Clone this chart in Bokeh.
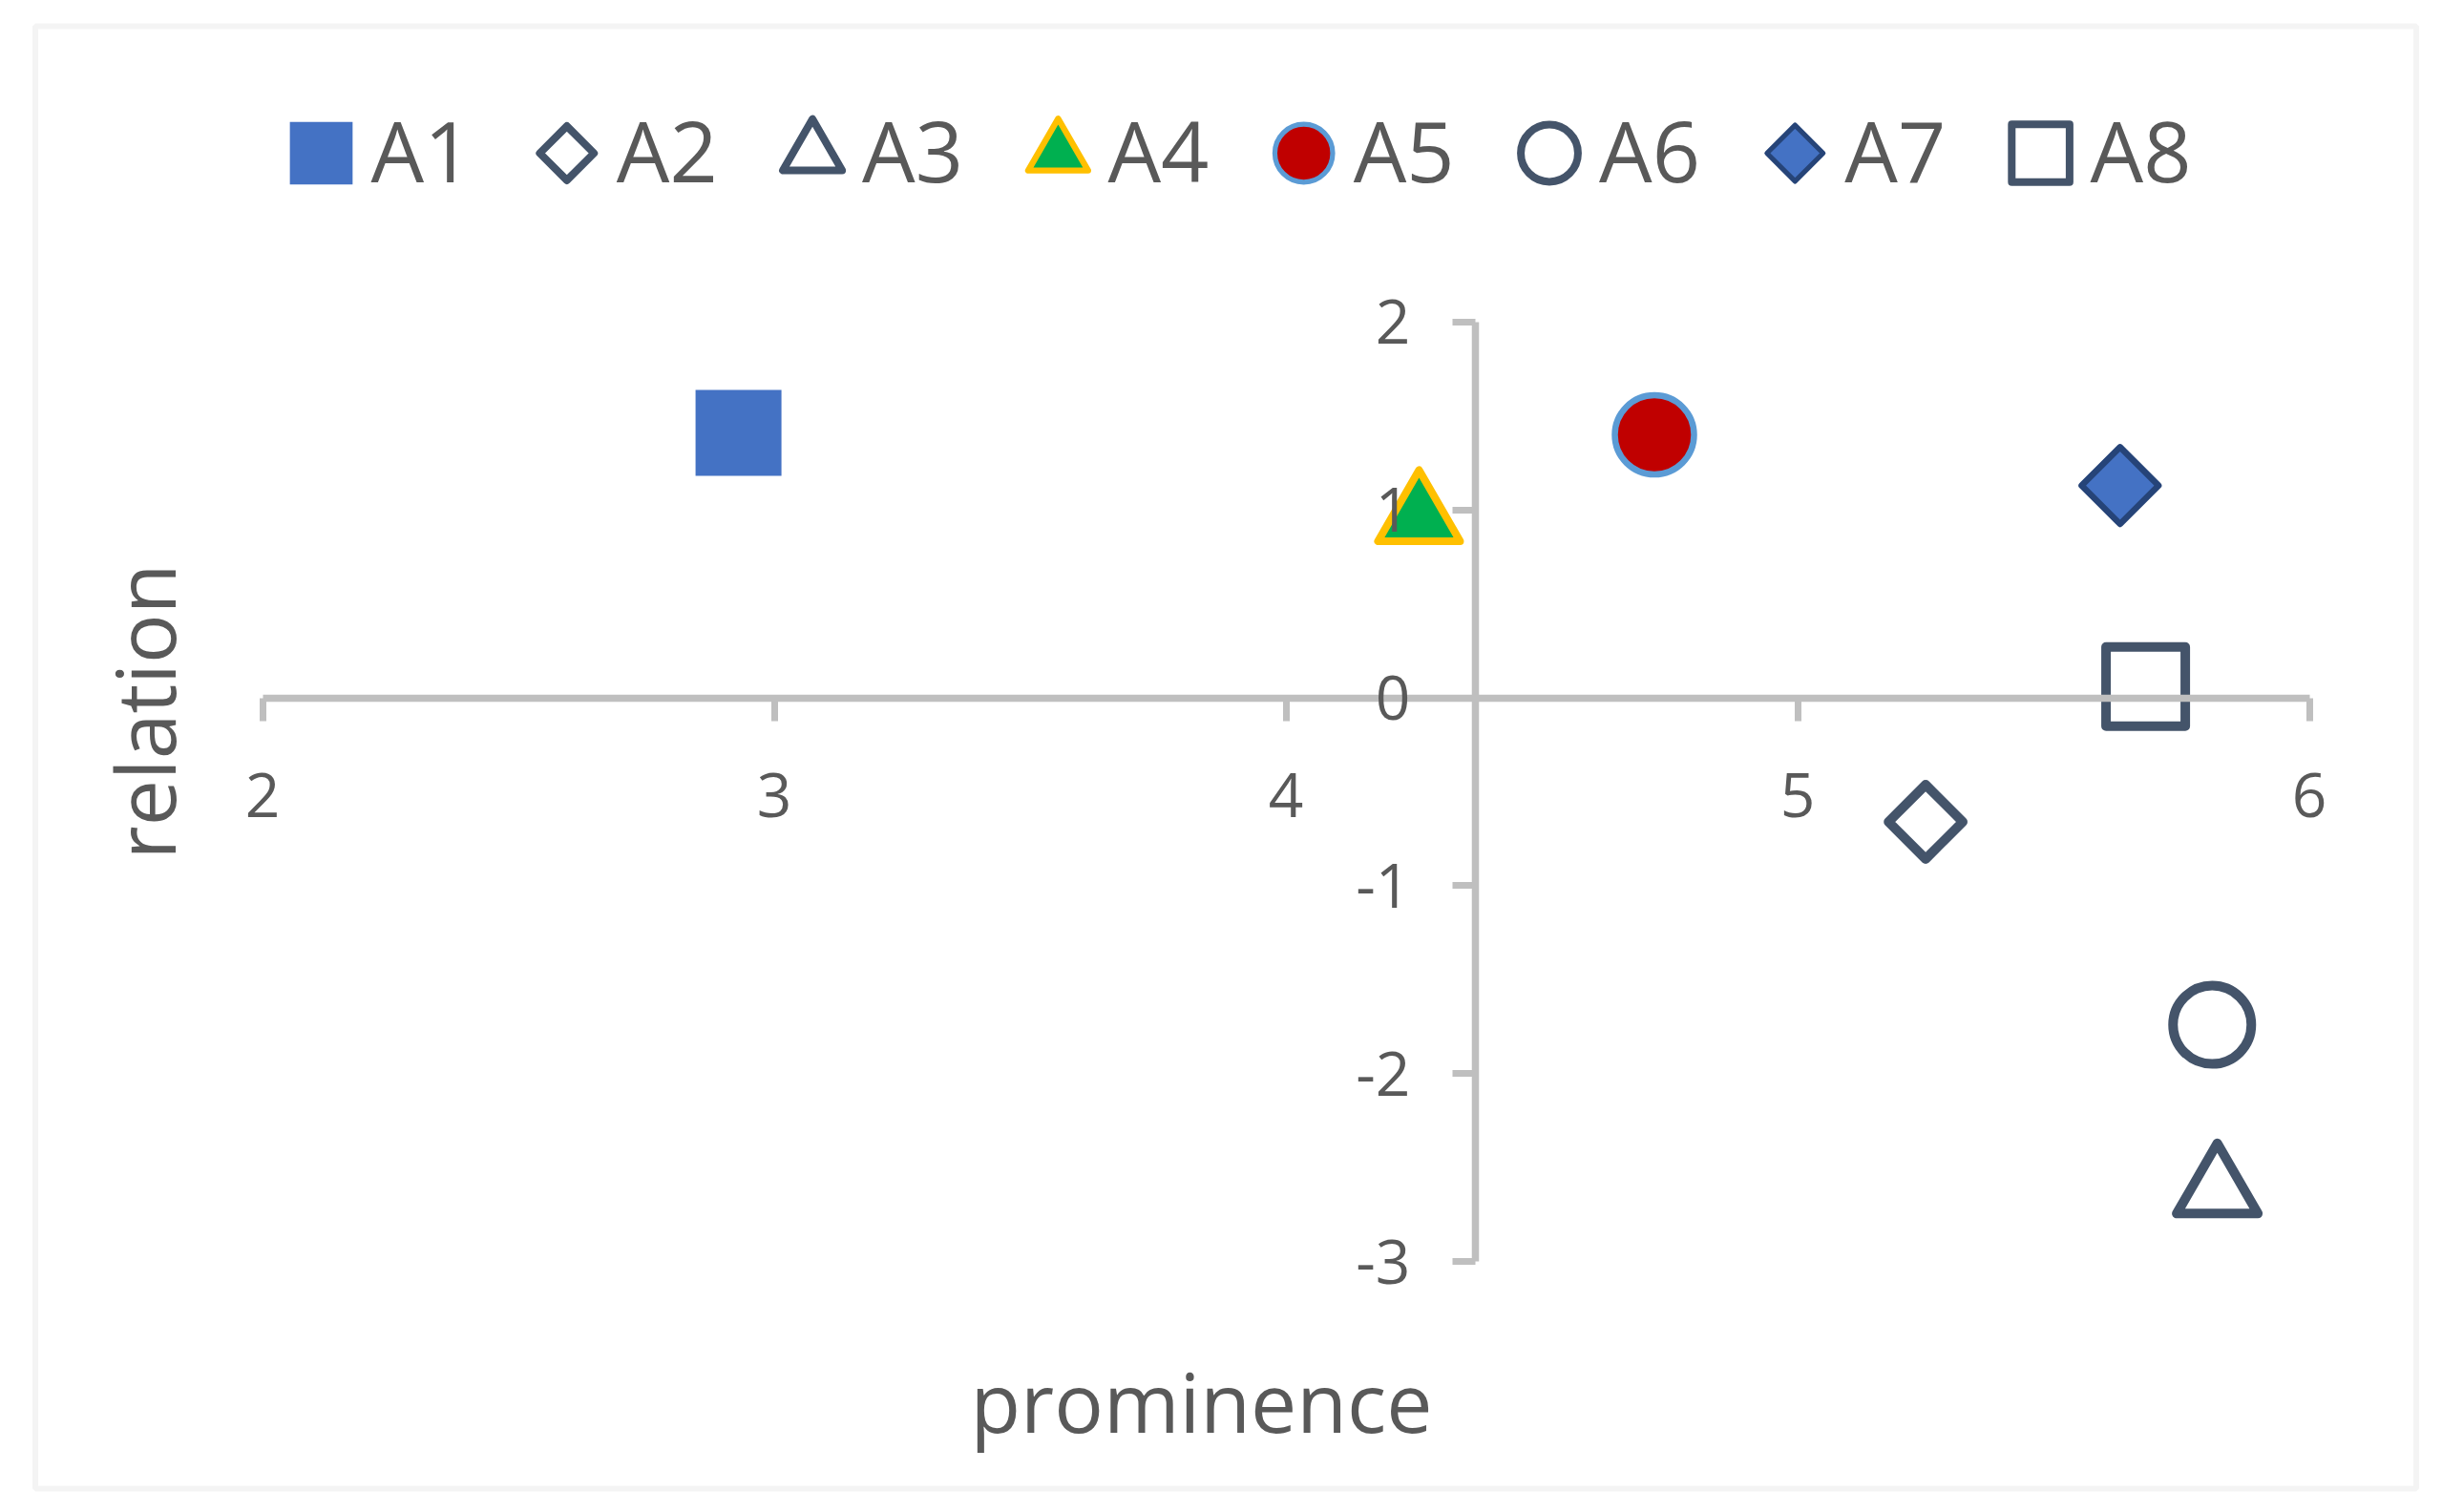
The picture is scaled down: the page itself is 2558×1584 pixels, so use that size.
import numpy as np
from bokeh.plotting import figure
from bokeh.models import Range1d, BoxAnnotation, Label, FixedTicker
from bokeh.core.properties import value
from bokeh.embed import file_html
from bokeh.resources import INLINE

# ---------------- data ----------------
names = ["A1", "A2", "A3", "A4", "A5", "A6", "A7", "A8"]
prominence = [2.93, 5.25, 5.82, 4.26, 4.72, 5.81, 5.63, 5.68]
relation = [1.41, -0.66, -2.62, 0.96, 1.40, -1.74, 1.13, 0.06]
x_ticks = [2, 3, 4, 5, 6]
y_ticks = [-3, -2, -1, 0, 1, 2]
y_axis_cross = 4.37
x_title = "prominence"
y_title = "relation"

# ---------------- styles ----------------
STYLES = {
    "A1": dict(marker="square", size=90, fill_color="#4472c4", line_color=None, line_width=0, angle=0),
    "A2": dict(marker="square", size=55, fill_color=None, line_color="#44546a", line_width=10, angle=np.pi / 4),
    "A3": dict(marker="triangle", size=85, fill_color=None, line_color="#44546a", line_width=10, angle=0),
    "A4": dict(marker="triangle", size=86, fill_color="#00b050", line_color="#ffc000", line_width=8, angle=0),
    "A5": dict(marker="circle", size=83, fill_color="#c00000", line_color="#5b9bd5", line_width=6.5, angle=0),
    "A6": dict(marker="circle", size=82, fill_color=None, line_color="#44546a", line_width=10, angle=0),
    "A7": dict(marker="square", size=57, fill_color="#4472c4", line_color="#264478", line_width=6.5, angle=np.pi / 4),
    "A8": dict(marker="square", size=83, fill_color=None, line_color="#44546a", line_width=10, angle=0),
}
LEG_SCALE = 0.73
TEXT_COLOR = "#595959"
AXIS_COLOR = "#bfbfbf"
FONT = "Open Sans"
TITLE_PX = 86
LEGEND_PX = 88
TICK_PX = 64

# ---------------- pixel <-> data mapping ----------------
W, H = 2542, 1568
PAGE_OFF = 0
X2_PAGE, XPX = 274.6, 536.0      # page px of x=2, px per unit
Y0_PAGE, YPX = 730.6, 196.84     # page px of y=0, px per unit


def dx(page_x):
    return 2 + (page_x - X2_PAGE) / XPX


def dy(page_y):
    return (Y0_PAGE - page_y) / YPX


def base_fix(font_px):
    # shift applied to an alphabetic-baseline anchor so the glyph baseline lands on target
    return 0.36 * font_px


p = figure(width=W, height=H,
           x_range=Range1d(dx(PAGE_OFF), dx(PAGE_OFF + W)),
           y_range=Range1d(dy(PAGE_OFF + H), dy(PAGE_OFF)),
           output_backend="svg", toolbar_location=None, min_border=0)
p.grid.visible = False
p.outline_line_color = None
p.background_fill_color = "white"
p.border_fill_color = "white"

# axes crossing inside the plot
for ax, loc, bnds, ticks, standoff in ((p.xaxis, 0, (2, 6), x_ticks, 55),
                                        (p.yaxis, y_axis_cross, (-3, 2), y_ticks, 44)):
    ax.fixed_location = loc
    ax.bounds = bnds
    ax.ticker = FixedTicker(ticks=ticks)
    ax.major_label_overrides = {t: str(t) for t in ticks}
    ax.axis_line_color = AXIS_COLOR
    ax.axis_line_width = 7.5
    ax.major_tick_line_color = AXIS_COLOR
    ax.major_tick_line_width = 7
    ax.major_tick_out = 24
    ax.major_tick_in = 0
    ax.minor_tick_line_color = None
    ax.major_label_text_font = FONT
    ax.major_label_text_font_size = f"{TICK_PX}px"
    ax.major_label_text_color = TEXT_COLOR
    ax.major_label_standoff = standoff

# data markers
for n, xv, yv in zip(names, prominence, relation):
    st = STYLES[n]
    p.scatter(x=[xv], y=[yv], marker=st["marker"], size=st["size"], angle=st["angle"],
              fill_color=st["fill_color"], line_color=st["line_color"],
              line_width=st["line_width"], line_join="round")

# legend (drawn manually so that rotated-square markers keep their shape)
LEG_X0, LEG_PITCH, LEG_Y, LEG_TXT_DX, LEG_BASE = 336, 257.3, 160, 52, 188
for i, n in enumerate(names):
    st = STYLES[n]
    cx = LEG_X0 + i * LEG_PITCH
    p.scatter(x=[dx(cx)], y=[dy(LEG_Y)], marker=st["marker"], size=st["size"] * LEG_SCALE,
              angle=st["angle"], fill_color=st["fill_color"], line_color=st["line_color"],
              line_width=st["line_width"] * 0.8, line_join="round")
    p.text(x=[dx(cx + LEG_TXT_DX)], y=[dy(LEG_BASE - base_fix(LEGEND_PX))], text=[n],
           text_font=value(FONT), text_font_size=value(f"{LEGEND_PX}px"), text_color=TEXT_COLOR,
           text_align="left", text_baseline="alphabetic")

# axis titles
p.add_layout(Label(x=dx(1258), y=dy(1498 - base_fix(TITLE_PX)), text=x_title, text_align="center",
                   text_baseline="alphabetic", text_font=FONT, text_font_size=f"{TITLE_PX}px",
                   text_color=TEXT_COLOR))
p.add_layout(Label(x=dx(181 - base_fix(TITLE_PX)), y=dy(745), text=y_title, angle=np.pi / 2,
                   text_align="center", text_baseline="alphabetic", text_font=FONT,
                   text_font_size=f"{TITLE_PX}px", text_color=TEXT_COLOR))

# chart-area border
p.add_layout(BoxAnnotation(left=dx(36.5), right=dx(2530.5), top=dy(27), bottom=dy(1559),
                           fill_alpha=0, line_color="#d9d9d9", line_width=6))

open("out.html", "w").write(file_html(p, INLINE))
